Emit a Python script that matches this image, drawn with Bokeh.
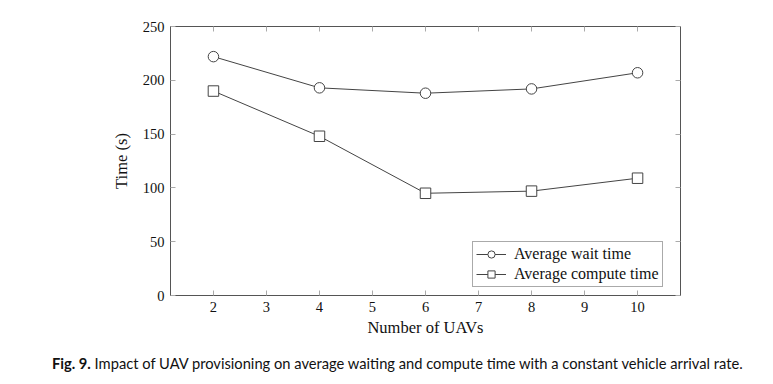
from bokeh.plotting import figure
from bokeh.models import LinearAxis, FixedTicker, Range1d, Legend, LegendItem, Div
from bokeh.layouts import column
from bokeh.embed import file_html
from bokeh.resources import INLINE

# ---- data ----
uavs = [2, 4, 6, 8, 10]
wait_time = [222, 193, 188, 192, 207]
compute_time = [190, 148, 95, 97, 109]
x_ticks = [2, 3, 4, 5, 6, 7, 8, 9, 10]
y_ticks = [0, 50, 100, 150, 200, 250]
series_names = ["Average wait time", "Average compute time"]
caption_bold = "Fig. 9."
caption_text = "Impact of UAV provisioning on average waiting and compute time with a constant vehicle arrival rate."

XMIN, XMAX = 1.19, 10.81
YMIN, YMAX = 0, 250
W, H = 757, 340
BL, BR, BT, BB = 170, 77, 26, 45

SERIF = "Liberation Serif"
AX = "#555555"
TK = "#aaaaaa"
LN = "#444444"

p = figure(width=W, height=H, output_backend="svg", toolbar_location=None,
           x_range=Range1d(XMIN, XMAX), y_range=Range1d(YMIN, YMAX),
           min_border_left=BL, min_border_right=BR, min_border_top=BT, min_border_bottom=BB,
           background_fill_color="white", border_fill_color="white")
p.grid.visible = False
p.outline_line_color = AX
p.outline_line_width = 1

for ax in (p.xaxis[0], p.yaxis[0]):
    ax.axis_line_color = AX
    ax.major_tick_line_color = TK
    ax.major_tick_in = 5
    ax.major_tick_out = 0
    ax.minor_tick_line_color = None
    ax.major_label_text_font = SERIF
    ax.major_label_text_font_size = "14.5px"
    ax.major_label_text_color = "#111111"
    ax.axis_label_text_font = SERIF
    ax.axis_label_text_font_size = "16.5px"
    ax.axis_label_text_font_style = "normal"
    ax.axis_label_text_color = "#111111"

p.xaxis.ticker = FixedTicker(ticks=x_ticks)
p.yaxis.ticker = FixedTicker(ticks=y_ticks)
p.xaxis.axis_label = "Number of UAVs"
p.yaxis.axis_label = "Time (s)"
p.xaxis.major_label_standoff = 6
p.yaxis.major_label_standoff = 6
p.xaxis.axis_label_standoff = 3
p.yaxis.axis_label_standoff = 9

# mirrored ticks on top and right
top = LinearAxis(ticker=FixedTicker(ticks=x_ticks), axis_line_color=None,
                 major_tick_line_color=TK, major_tick_in=5, major_tick_out=0,
                 minor_tick_line_color=None, major_label_text_alpha=0,
                 major_label_text_font_size="1px", major_label_standoff=0)
right = LinearAxis(ticker=FixedTicker(ticks=y_ticks), axis_line_color=None,
                   major_tick_line_color=TK, major_tick_in=5, major_tick_out=0,
                   minor_tick_line_color=None, major_label_text_alpha=0,
                   major_label_text_font_size="1px", major_label_standoff=0)
p.add_layout(top, "above")
p.add_layout(right, "right")

l1 = p.line(uavs, wait_time, line_color=LN, line_width=1)
m1 = p.scatter(uavs, wait_time, marker="circle", size=10.5, line_color=LN,
               fill_color="white", line_width=1)
l2 = p.line(uavs, compute_time, line_color=LN, line_width=1)
m2 = p.scatter(uavs, compute_time, marker="square", size=10.5, line_color=LN,
               fill_color="white", line_width=1)

legend = Legend(items=[LegendItem(label=series_names[0], renderers=[l1, m1]),
                       LegendItem(label=series_names[1], renderers=[l2, m2])],
                location=(302, 8), orientation="vertical")
legend.border_line_color = AX
legend.border_line_width = 1
legend.background_fill_color = "white"
legend.background_fill_alpha = 1
legend.label_text_font = SERIF
legend.label_text_font_size = "16px"
legend.label_text_color = "#111111"
legend.glyph_width = 30
legend.glyph_height = 18
legend.label_height = 18
legend.label_standoff = 8
legend.spacing = 2
legend.padding = 3
legend.margin = 0
p.add_layout(legend, "center")

caption = Div(
    text=f"<b>{caption_bold}</b> {caption_text}",
    width=W, height=40, margin=(0, 0, 0, 0),
    styles={"font-family": "Lato", "font-size": "14.7px", "color": "#111111",
            "line-height": "20px", "padding-left": "52px", "padding-top": "13px",
            "white-space": "nowrap"},
)

layout = column(p, caption, spacing=0)
open("out.html", "w").write(file_html(layout, INLINE))
